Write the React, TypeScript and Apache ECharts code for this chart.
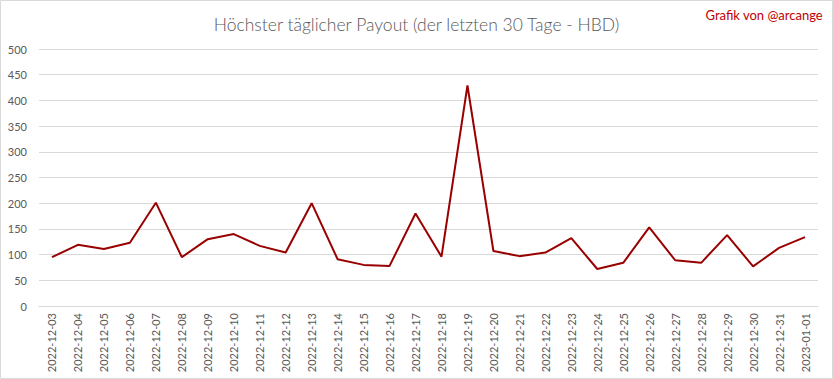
import React, { useEffect, useRef } from "react";
import * as echarts from "echarts";

const categories = [
  "2022-12-03", "2022-12-04", "2022-12-05", "2022-12-06", "2022-12-07",
  "2022-12-08", "2022-12-09", "2022-12-10", "2022-12-11", "2022-12-12",
  "2022-12-13", "2022-12-14", "2022-12-15", "2022-12-16", "2022-12-17",
  "2022-12-18", "2022-12-19", "2022-12-20", "2022-12-21", "2022-12-22",
  "2022-12-23", "2022-12-24", "2022-12-25", "2022-12-26", "2022-12-27",
  "2022-12-28", "2022-12-29", "2022-12-30", "2022-12-31", "2023-01-01",
];

const payout = [
  95, 119, 111, 123, 201, 95, 130, 140, 117, 104,
  200, 91, 80, 78, 180, 96, 429, 107, 97, 104,
  132, 72, 84, 153, 89, 84, 138, 77, 113, 134,
];

const titleText = "Höchster täglicher Payout (der letzten 30 Tage - HBD)";
const creditText = "Grafik von @arcange";

export default function App() {
  const ref = useRef<HTMLDivElement>(null);
  useEffect(() => {
    if (!ref.current) return;
    const chart = echarts.init(ref.current, null, { renderer: "svg" });
    chart.setOption({
      animation: false,
      backgroundColor: "#ffffff",
      textStyle: { fontFamily: "Lato" },
      title: {
        text: titleText,
        left: "center",
        top: 10,
        textStyle: { fontFamily: "Lato", fontWeight: 300, fontSize: 17.5, color: "#595959" },
      },
      graphic: [
        {
          type: "rect",
          shape: { x: 0.5, y: 0.5, width: 832, height: 378 },
          style: { fill: "none", stroke: "#d9d9d9", lineWidth: 1 },
          silent: true,
        },
        {
          type: "text",
          right: 10,
          top: 8,
          style: { text: creditText, fill: "#c00000", fontSize: 13, fontFamily: "Lato" },
        },
      ],
      grid: { left: 39, right: 15, top: 49, bottom: 73 },
      xAxis: {
        type: "category",
        data: categories,
        boundaryGap: true,
        axisLine: { lineStyle: { color: "#d9d9d9" } },
        axisTick: { show: false },
        axisLabel: { rotate: 90, color: "#595959", fontSize: 11, interval: 0, margin: 7 },
      },
      yAxis: {
        type: "value",
        min: 0,
        max: 500,
        interval: 50,
        axisLine: { show: false },
        axisTick: { show: false },
        splitLine: { lineStyle: { color: "#d9d9d9" } },
        axisLabel: { color: "#595959", fontSize: 11, margin: 12 },
      },
      series: [
        {
          type: "line",
          data: payout,
          symbol: "none",
          lineStyle: { color: "#990000", width: 2 },
        },
      ],
    });
    return () => chart.dispose();
  }, []);
  return (
    <div
      ref={ref}
      style={{ position: "absolute", left: 0, top: 0, width: 833, height: 379 }}
    />
  );
}
